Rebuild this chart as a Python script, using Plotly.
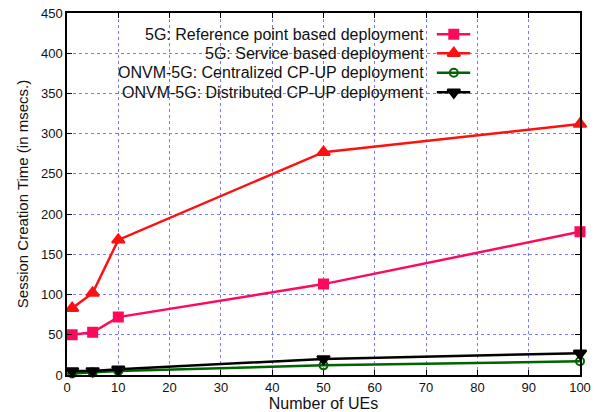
import plotly.graph_objects as go

ues = [1, 5, 10, 50, 100]
ref_point = [50, 53, 72, 113, 178]
service_based = [83, 102, 168, 277, 312]
onvm_central = [2, 3, 5, 12, 17]
onvm_distrib = [5, 5, 7, 20, 27]

names = [
    "5G: Reference point based deployment",
    "5G: Service based deployment",
    "ONVM-5G: Centralized CP-UP deployment",
    "ONVM-5G: Distributed CP-UP deployment",
]
series = [ref_point, service_based, onvm_central, onvm_distrib]
colors = ["#ff0a5a", "#ff1010", "#006400", "#000000"]
symbols = ["square", "triangle-up", "circle-open", "triangle-down"]
sizes = [9, 11, 8, 11]

x_ticks = list(range(0, 101, 10))
y_ticks = list(range(0, 451, 50))

FONT = "Liberation Sans, Arial, Helvetica, sans-serif"

fig = go.Figure()
for ys, nm, c, s, sz in zip(series, names, colors, symbols, sizes):
    fig.add_trace(go.Scatter(
        x=ues, y=ys, name=nm, mode="lines+markers",
        line=dict(color=c, width=2.5),
        marker=dict(symbol=s, size=sz, color=c, line=dict(color=c, width=2)),
        showlegend=False, cliponaxis=False,
    ))

# opaque key box (hides grid behind the key)
fig.add_shape(type="rect", xref="paper", yref="paper",
              x0=0.2144, x1=0.799, y0=0.768, y1=0.964,
              fillcolor="white", line=dict(width=0), layer="between")

# manual legend (text on left, sample on right), drawn on an overlay axis in [0,1]
leg_rows = [0.941, 0.889, 0.835, 0.781]
leg_x0, leg_x1, leg_xm = 0.721, 0.786, 0.754
for nm, c, s, sz, yy in zip(names, colors, symbols, sizes, leg_rows):
    fig.add_trace(go.Scatter(
        x=[leg_x0, leg_x1], y=[yy, yy], mode="lines",
        line=dict(color=c, width=2.5), xaxis="x2", yaxis="y2",
        showlegend=False, hoverinfo="skip",
    ))
    fig.add_trace(go.Scatter(
        x=[leg_xm], y=[yy], mode="markers",
        marker=dict(symbol=s, size=sz, color=c, line=dict(color=c, width=2)),
        xaxis="x2", yaxis="y2", showlegend=False, hoverinfo="skip",
    ))
    fig.add_annotation(
        x=0.698, y=yy, xref="paper", yref="paper", text=nm, showarrow=False,
        xanchor="right", yanchor="middle", font=dict(family=FONT, size=16, color="#111"),
        borderpad=0,
    )

axis_common = dict(
    showline=True, linecolor="black", linewidth=1.5, mirror="ticks",
    ticks="inside", ticklen=5, tickcolor="black", tickwidth=1,
    showgrid=True, gridcolor="rgba(90,90,255,0.8)", griddash="dot", gridwidth=1,
    zeroline=False, tickfont=dict(family=FONT, size=13, color="#111"),
    automargin=False,
)

fig.update_layout(
    width=595, height=412,
    margin=dict(l=67, r=15, t=13, b=37),
    paper_bgcolor="white", plot_bgcolor="white",
    xaxis=dict(range=[0, 100], tickvals=x_ticks,
               title=dict(text="Number of UEs", font=dict(family=FONT, size=16, color="#111"), standoff=2),
               **axis_common),
    yaxis=dict(range=[0, 450], tickvals=y_ticks,
               title=dict(text="Session Creation Time (in msecs.)", font=dict(family=FONT, size=15, color="#111"), standoff=9),
               **axis_common),
    xaxis2=dict(range=[0, 1], overlaying="x", visible=False, anchor="y2"),
    yaxis2=dict(range=[0, 1], overlaying="y", visible=False, anchor="x2"),
)

fig.write_html("out.html")
